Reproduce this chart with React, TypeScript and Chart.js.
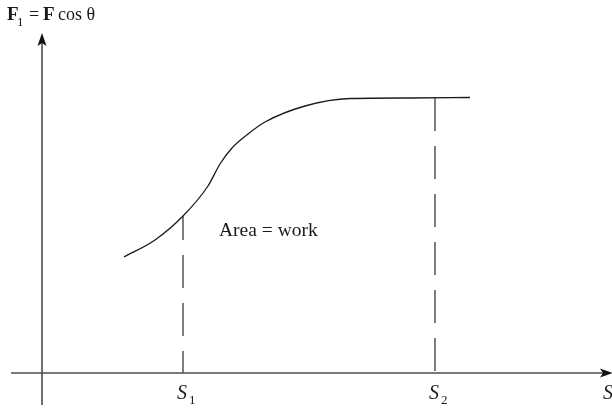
import React, { useEffect, useRef } from "react";
import { Chart, registerables } from "chart.js";

Chart.register(...registerables);

// Force component (F1 = F cos θ) versus displacement S
const curveX = [2.05, 2.825, 3.525, 4.15, 4.45, 4.75, 5.15, 5.575, 6.575, 7.7, 9.2, 10.7];
const curveY = [2.9, 3.325, 3.925, 4.675, 5.225, 5.625, 5.975, 6.275, 6.675, 6.8625, 6.875, 6.8875];

// Bounds of integration (S1, S2) and the curve height at each
const boundLabels = ["1", "2"];
const boundX = [3.525, 9.825];
const boundTopY = [3.925, 6.875];

const yAxisTitle = { main: "F", sub: "1", rest: "=", bold2: "F", tail: "cos θ" };
const xAxisTitle = "S";
const areaLabel = "Area = work";

const AXIS_COLOR = "#4d4d4d";
const SERIF = "'Liberation Serif', 'DejaVu Serif', serif";

const annotate = {
  id: "annotate",
  afterDraw(chart: any) {
    const { ctx, scales } = chart;
    const xs = scales.x;
    const ys = scales.y;
    const x0 = xs.getPixelForValue(0);
    const y0 = ys.getPixelForValue(0);
    const area = chart.chartArea;
    ctx.save();
    // axes
    ctx.strokeStyle = AXIS_COLOR;
    ctx.lineWidth = 1.6;
    ctx.beginPath();
    ctx.moveTo(area.left, y0);
    ctx.lineTo(area.right - 4, y0);
    ctx.moveTo(x0, area.bottom);
    ctx.lineTo(x0, area.top + 6);
    ctx.stroke();
    // arrow heads
    ctx.fillStyle = "#111";
    ctx.beginPath();
    ctx.moveTo(x0, area.top);
    ctx.lineTo(x0 + 4.5, area.top + 13);
    ctx.lineTo(x0, area.top + 10);
    ctx.lineTo(x0 - 4.5, area.top + 13);
    ctx.closePath();
    ctx.fill();
    ctx.beginPath();
    ctx.moveTo(area.right + 1, y0);
    ctx.lineTo(area.right - 12, y0 - 4.5);
    ctx.lineTo(area.right - 9, y0);
    ctx.lineTo(area.right - 12, y0 + 4.5);
    ctx.closePath();
    ctx.fill();

    // texts
    ctx.fillStyle = "#1a1a1a";
    ctx.textBaseline = "alphabetic";
    ctx.textAlign = "left";
    // y axis title
    ctx.font = `bold 19px ${SERIF}`;
    ctx.fillText(yAxisTitle.main, 7, 20);
    ctx.font = `13px ${SERIF}`;
    ctx.fillText(yAxisTitle.sub, 17, 26);
    ctx.font = `18px ${SERIF}`;
    ctx.fillText(yAxisTitle.rest, 29, 20);
    ctx.font = `bold 19px ${SERIF}`;
    ctx.fillText(yAxisTitle.bold2, 43, 20);
    ctx.font = `18px ${SERIF}`;
    ctx.fillText(yAxisTitle.tail, 58, 20);

    // bound labels
    boundX.forEach((v, i) => {
      const px = xs.getPixelForValue(v);
      ctx.font = `italic 20px ${SERIF}`;
      ctx.fillText(xAxisTitle, px - 6, y0 + 26);
      ctx.font = `13px ${SERIF}`;
      ctx.fillText(boundLabels[i], px + 6, y0 + 31);
    });
    // x axis title
    ctx.font = `italic 20px ${SERIF}`;
    ctx.fillText(xAxisTitle, area.right - 9, y0 + 26);

    // area label
    ctx.font = `19.5px ${SERIF}`;
    ctx.fillText(areaLabel, xs.getPixelForValue(4.425), ys.getPixelForValue(3.425));
    ctx.restore();
  },
};

export default function App() {
  const ref = useRef<HTMLCanvasElement>(null);
  useEffect(() => {
    if (!ref.current) return;
    const boundSets = boundX.map((bx, i) => ({
      label: "S" + boundLabels[i],
      data: [
        { x: bx, y: boundTopY[i] },
        { x: bx, y: 0 },
      ],
      borderColor: "#555",
      borderWidth: 1.5,
      borderDash: [33, 15],
      borderDashOffset: i === 0 ? 9 : 0,
      pointRadius: 0,
      tension: 0,
    }));
    const chart = new Chart(ref.current, {
      type: "line",
      data: {
        datasets: [
          {
            label: "F1",
            data: curveX.map((x, i) => ({ x, y: curveY[i] })),
            borderColor: "#1a1a1a",
            borderWidth: 1.3,
            pointRadius: 0,
            cubicInterpolationMode: "monotone",
          },
          ...boundSets,
        ] as any,
      },
      options: {
        animation: false,
        responsive: false,
        layout: { padding: { left: 11, right: 0, top: 33, bottom: 5 } },
        plugins: { legend: { display: false }, tooltip: { enabled: false } },
        scales: {
          x: { type: "linear", display: false, min: -0.775, max: 14.25 },
          y: { type: "linear", display: false, min: -0.8, max: 8.5 },
        },
      },
      plugins: [annotate],
    });
    return () => chart.destroy();
  }, []);
  return (
    <div style={{ position: "absolute", left: 0, top: 0, width: 612, height: 410, background: "#fff" }}>
      <canvas ref={ref} width={612} height={410} />
    </div>
  );
}
